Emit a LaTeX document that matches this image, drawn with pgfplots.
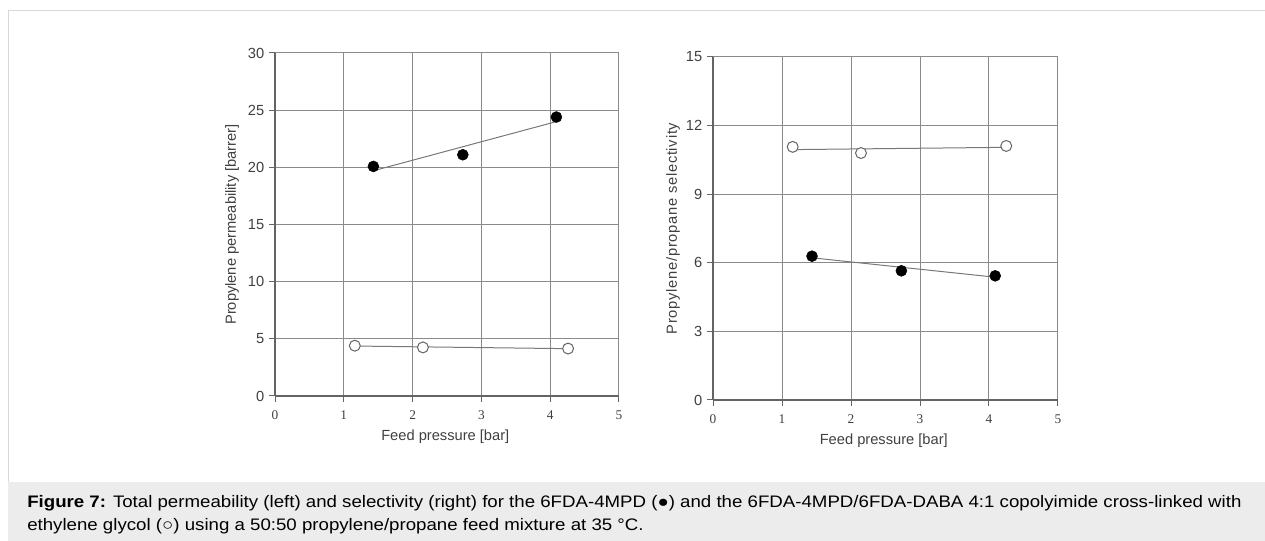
\documentclass[border=0pt]{standalone}
\usepackage{fontspec}
\setmainfont{Liberation Sans}
\newfontfamily\seriffont{Liberation Serif}
\newfontfamily\capfont[FakeStretch=1.12]{Liberation Sans}
\usepackage{pgfplots}
\pgfplotsset{compat=1.18}

\definecolor{gridgray}{RGB}{138,138,138}
\definecolor{trendgray}{RGB}{120,120,120}
\definecolor{axisgray}{RGB}{100,100,100}
\definecolor{textgray}{RGB}{64,64,64}
\definecolor{framegray}{RGB}{217,217,217}
\definecolor{capbg}{RGB}{236,236,236}

\pgfplotsset{
  panel/.style={
    scale only axis,
    height=257.25pt,
    xmin=0, xmax=5, xtick={0,1,2,3,4,5},
    axis lines=left,
    axis line style={-, draw=axisgray, line width=0.9pt},
    grid=major,
    major grid style={draw=gridgray, line width=0.75pt},
    tick align=outside,
    major tick length=4.5pt,
    tick style={draw=axisgray, line width=0.75pt},
    /pgf/number format/assume math mode=true,
    xticklabel style={font=\seriffont\fontsize{10}{12}\selectfont, text=textgray, yshift=-3pt},
    yticklabel style={font=\fontsize{11}{13}\selectfont, text=textgray},
    label style={font=\fontsize{11}{13}\selectfont, text=textgray},
    xlabel style={at={(axis description cs:0.495,-0.118)}, anchor=center},
    clip=false,
  },
  trend/.style={draw=trendgray, line width=0.75pt, no marks},
  full/.style={only marks, mark=*, mark size=4.1pt, mark options={fill=black, draw=black}},
  open/.style={only marks, mark=*, mark size=4.1pt, mark options={fill=white, draw=axisgray, line width=0.75pt}},
}

\begin{document}
\begin{tikzpicture}
\path[use as bounding box] (0,0) rectangle (948.75pt,-405.75pt);
\fill[capbg] (6pt,-361.5pt) rectangle (948.75pt,-405.75pt);
\draw[framegray, line width=0.75pt] (6pt,-361.5pt) -- (6pt,-8.25pt) -- (948.75pt,-8.25pt);

% left: permeability
\begin{axis}[panel,
  at={(206.25pt,-297pt)}, anchor=south west,
  width=258pt,
  ymin=0, ymax=30, ytick={0,5,10,15,20,25,30},
  xlabel={Feed pressure [bar]},
  ylabel={Propylene permeability [barrer]},
  ylabel style={at={(axis description cs:-0.125,0.5)}, anchor=center},
]
\addplot[trend] coordinates {(1.43,19.7) (4.09,24.0)};
\addplot[trend] coordinates {(1.16,4.37) (4.26,4.14)};
\addplot[full] coordinates {(1.43,20.08) (2.73,21.1) (4.09,24.4)};
\addplot[open] coordinates {(1.16,4.4) (2.15,4.25) (4.26,4.15)};
\end{axis}

% right: selectivity
\begin{axis}[panel,
  at={(534.75pt,-300pt)}, anchor=south west,
  width=258.75pt,
  ymin=0, ymax=15, ytick={0,3,6,9,12,15},
  xlabel={Feed pressure [bar]},
  ylabel={Propylene/propane selectivity},
  ylabel style={at={(axis description cs:-0.116,0.5)}, anchor=center,
    font=\fontsize{11}{13}\selectfont\addfontfeatures{LetterSpace=5}},
]
\addplot[trend] coordinates {(1.43,6.22) (4.09,5.37)};
\addplot[trend] coordinates {(1.155,10.95) (4.25,11.05)};
\addplot[full] coordinates {(1.435,6.29) (2.73,5.65) (4.09,5.43)};
\addplot[open] coordinates {(1.155,11.07) (2.145,10.8) (4.25,11.11)};
\end{axis}

\node[anchor=base west, inner sep=0pt, font=\capfont\fontsize{12.5}{14}\selectfont] at (20.25pt,-381pt)
  {\textbf{Figure 7:} Total permeability (left) and selectivity (right) for the 6FDA-4MPD (●) and the 6FDA-4MPD/6FDA-DABA 4:1 copolyimide cross-linked with};
\node[anchor=base west, inner sep=0pt, font=\capfont\fontsize{12.5}{14}\selectfont] at (20.25pt,-398.25pt)
  {ethylene glycol (○) using a 50:50 propylene/propane feed mixture at 35 °C.};
\end{tikzpicture}
\end{document}
